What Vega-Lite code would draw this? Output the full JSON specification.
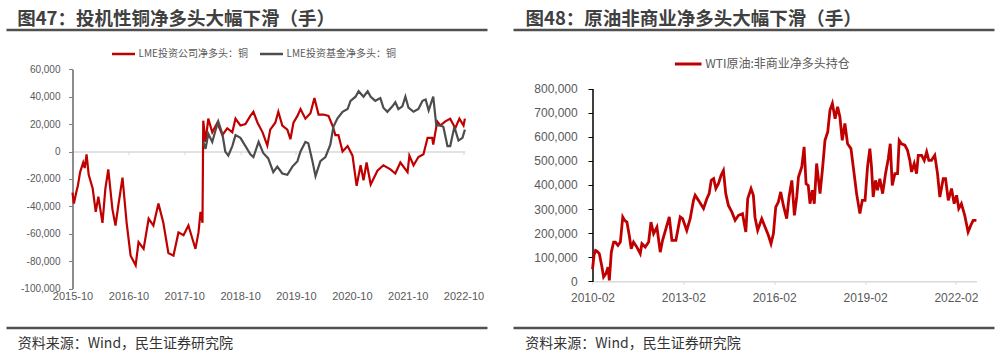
{
  "$schema": "https://vega.github.io/schema/vega-lite/v6.json",
  "padding": {"left": 4.5, "top": 8, "right": 8, "bottom": 2},
  "spacing": 26,
  "bounds": "flush",
  "resolve": {"scale": {"color": "independent"}, "legend": {"color": "independent"}},
  "config": {
    "view": {"stroke": "#505050", "strokeWidth": 2.7, "strokeDash": [481, 298]},
    "font": "Noto Sans CJK SC",
    "axis": {"grid": false, "labelFont": "Liberation Sans", "labelColor": "#595959", "labelFlush": false, "labelOverlap": false}
  },
  "datasets": {
    "copper": [
      {"date": "2015-10-01", "series": "LME投资公司净多头：铜", "value": -30000},
      {"date": "2015-10-10", "series": "LME投资公司净多头：铜", "value": -38000},
      {"date": "2015-10-25", "series": "LME投资公司净多头：铜", "value": -30000},
      {"date": "2015-11-05", "series": "LME投资公司净多头：铜", "value": -25000},
      {"date": "2015-11-20", "series": "LME投资公司净多头：铜", "value": -15000},
      {"date": "2015-12-10", "series": "LME投资公司净多头：铜", "value": -8000},
      {"date": "2015-12-20", "series": "LME投资公司净多头：铜", "value": -12000},
      {"date": "2016-01-01", "series": "LME投资公司净多头：铜", "value": -2000},
      {"date": "2016-01-15", "series": "LME投资公司净多头：铜", "value": -17000},
      {"date": "2016-02-10", "series": "LME投资公司净多头：铜", "value": -27000},
      {"date": "2016-03-01", "series": "LME投资公司净多头：铜", "value": -44000},
      {"date": "2016-03-18", "series": "LME投资公司净多头：铜", "value": -33000},
      {"date": "2016-04-14", "series": "LME投资公司净多头：铜", "value": -52000},
      {"date": "2016-05-03", "series": "LME投资公司净多头：铜", "value": -27000},
      {"date": "2016-05-22", "series": "LME投资公司净多头：铜", "value": -13000},
      {"date": "2016-06-18", "series": "LME投资公司净多头：铜", "value": -42000},
      {"date": "2016-07-08", "series": "LME投资公司净多头：铜", "value": -54000},
      {"date": "2016-07-27", "series": "LME投资公司净多头：铜", "value": -39000},
      {"date": "2016-08-23", "series": "LME投资公司净多头：铜", "value": -19000},
      {"date": "2016-09-19", "series": "LME投资公司净多头：铜", "value": -52000},
      {"date": "2016-10-15", "series": "LME投资公司净多头：铜", "value": -76000},
      {"date": "2016-11-17", "series": "LME投资公司净多头：铜", "value": -83000},
      {"date": "2016-12-06", "series": "LME投资公司净多头：铜", "value": -66000},
      {"date": "2017-01-08", "series": "LME投资公司净多头：铜", "value": -71000},
      {"date": "2017-02-10", "series": "LME投资公司净多头：铜", "value": -49000},
      {"date": "2017-03-13", "series": "LME投资公司净多头：铜", "value": -54000},
      {"date": "2017-04-15", "series": "LME投资公司净多头：铜", "value": -38000},
      {"date": "2017-05-17", "series": "LME投资公司净多头：铜", "value": -52000},
      {"date": "2017-06-19", "series": "LME投资公司净多头：铜", "value": -74000},
      {"date": "2017-07-22", "series": "LME投资公司净多头：铜", "value": -76000},
      {"date": "2017-08-24", "series": "LME投资公司净多头：铜", "value": -59000},
      {"date": "2017-09-26", "series": "LME投资公司净多头：铜", "value": -61000},
      {"date": "2017-10-28", "series": "LME投资公司净多头：铜", "value": -54000},
      {"date": "2017-11-24", "series": "LME投资公司净多头：铜", "value": -64000},
      {"date": "2017-12-13", "series": "LME投资公司净多头：铜", "value": -71000},
      {"date": "2018-01-02", "series": "LME投资公司净多头：铜", "value": -59000},
      {"date": "2018-01-15", "series": "LME投资公司净多头：铜", "value": -44000},
      {"date": "2018-01-28", "series": "LME投资公司净多头：铜", "value": -52000},
      {"date": "2018-02-02", "series": "LME投资公司净多头：铜", "value": 22500},
      {"date": "2018-02-17", "series": "LME投资公司净多头：铜", "value": 7000},
      {"date": "2018-03-07", "series": "LME投资公司净多头：铜", "value": 24000},
      {"date": "2018-04-02", "series": "LME投资公司净多头：铜", "value": 14000},
      {"date": "2018-05-05", "series": "LME投资公司净多头：铜", "value": 21000},
      {"date": "2018-06-07", "series": "LME投资公司净多头：铜", "value": 12000},
      {"date": "2018-07-09", "series": "LME投资公司净多头：铜", "value": 17000},
      {"date": "2018-08-11", "series": "LME投资公司净多头：铜", "value": 14000},
      {"date": "2018-09-01", "series": "LME投资公司净多头：铜", "value": 24000},
      {"date": "2018-10-03", "series": "LME投资公司净多头：铜", "value": 19000},
      {"date": "2018-11-05", "series": "LME投资公司净多头：铜", "value": 20000},
      {"date": "2018-12-07", "series": "LME投资公司净多头：铜", "value": 26000},
      {"date": "2018-12-27", "series": "LME投资公司净多头：铜", "value": 29000},
      {"date": "2019-01-23", "series": "LME投资公司净多头：铜", "value": 21000},
      {"date": "2019-02-25", "series": "LME投资公司净多头：铜", "value": 14000},
      {"date": "2019-03-28", "series": "LME投资公司净多头：铜", "value": 4400},
      {"date": "2019-04-16", "series": "LME投资公司净多头：铜", "value": 16000},
      {"date": "2019-05-19", "series": "LME投资公司净多头：铜", "value": 21000},
      {"date": "2019-06-08", "series": "LME投资公司净多头：铜", "value": 29000},
      {"date": "2019-07-04", "series": "LME投资公司净多头：铜", "value": 19000},
      {"date": "2019-08-06", "series": "LME投资公司净多头：铜", "value": 16000},
      {"date": "2019-08-26", "series": "LME投资公司净多头：铜", "value": 9000},
      {"date": "2019-09-15", "series": "LME投资公司净多头：铜", "value": 21000},
      {"date": "2019-10-11", "series": "LME投资公司净多头：铜", "value": 26000},
      {"date": "2019-10-31", "series": "LME投资公司净多头：铜", "value": 31000},
      {"date": "2019-12-02", "series": "LME投资公司净多头：铜", "value": 24000},
      {"date": "2020-01-04", "series": "LME投资公司净多头：铜", "value": 28000},
      {"date": "2020-01-30", "series": "LME投资公司净多头：铜", "value": 39000},
      {"date": "2020-02-26", "series": "LME投资公司净多头：铜", "value": 27000},
      {"date": "2020-03-29", "series": "LME投资公司净多头：铜", "value": 27000},
      {"date": "2020-05-01", "series": "LME投资公司净多头：铜", "value": 26000},
      {"date": "2020-05-27", "series": "LME投资公司净多头：铜", "value": 19000},
      {"date": "2020-06-15", "series": "LME投资公司净多头：铜", "value": 12000},
      {"date": "2020-07-05", "series": "LME投资公司净多头：铜", "value": 12000},
      {"date": "2020-08-01", "series": "LME投资公司净多头：铜", "value": 0},
      {"date": "2020-09-03", "series": "LME投资公司净多头：铜", "value": 4000},
      {"date": "2020-10-05", "series": "LME投资公司净多头：铜", "value": -3000},
      {"date": "2020-11-01", "series": "LME投资公司净多头：铜", "value": -25000},
      {"date": "2020-11-27", "series": "LME投资公司净多头：铜", "value": -10000},
      {"date": "2020-12-16", "series": "LME投资公司净多头：铜", "value": -21000},
      {"date": "2021-01-05", "series": "LME投资公司净多头：铜", "value": -8000},
      {"date": "2021-02-01", "series": "LME投资公司净多头：铜", "value": -24000},
      {"date": "2021-03-17", "series": "LME投资公司净多头：铜", "value": -14000},
      {"date": "2021-04-25", "series": "LME投资公司净多头：铜", "value": -10000},
      {"date": "2021-06-10", "series": "LME投资公司净多头：铜", "value": -13000},
      {"date": "2021-07-12", "series": "LME投资公司净多头：铜", "value": -16000},
      {"date": "2021-08-14", "series": "LME投资公司净多头：铜", "value": -8000},
      {"date": "2021-09-30", "series": "LME投资公司净多头：铜", "value": -15000},
      {"date": "2021-10-12", "series": "LME投资公司净多头：铜", "value": -3000},
      {"date": "2021-11-08", "series": "LME投资公司净多头：铜", "value": -10000},
      {"date": "2021-12-10", "series": "LME投资公司净多头：铜", "value": -4000},
      {"date": "2022-01-12", "series": "LME投资公司净多头：铜", "value": -2000},
      {"date": "2022-02-08", "series": "LME投资公司净多头：铜", "value": 10000},
      {"date": "2022-03-10", "series": "LME投资公司净多头：铜", "value": 10000},
      {"date": "2022-03-17", "series": "LME投资公司净多头：铜", "value": 5000},
      {"date": "2022-04-12", "series": "LME投资公司净多头：铜", "value": 22000},
      {"date": "2022-05-02", "series": "LME投资公司净多头：铜", "value": 19000},
      {"date": "2022-06-04", "series": "LME投资公司净多头：铜", "value": 22000},
      {"date": "2022-07-06", "series": "LME投资公司净多头：铜", "value": 24000},
      {"date": "2022-08-08", "series": "LME投资公司净多头：铜", "value": 17000},
      {"date": "2022-09-04", "series": "LME投资公司净多头：铜", "value": 24000},
      {"date": "2022-10-01", "series": "LME投资公司净多头：铜", "value": 19000},
      {"date": "2022-10-10", "series": "LME投资公司净多头：铜", "value": 24000},
      {"date": "2018-02-02", "series": "LME投资基金净多头：铜", "value": 7000},
      {"date": "2018-02-17", "series": "LME投资基金净多头：铜", "value": 2000},
      {"date": "2018-03-07", "series": "LME投资基金净多头：铜", "value": 13000},
      {"date": "2018-04-02", "series": "LME投资基金净多头：铜", "value": 7000},
      {"date": "2018-04-22", "series": "LME投资基金净多头：铜", "value": 15000},
      {"date": "2018-05-11", "series": "LME投资基金净多头：铜", "value": 22000},
      {"date": "2018-06-07", "series": "LME投资基金净多头：铜", "value": 13000},
      {"date": "2018-06-26", "series": "LME投资基金净多头：铜", "value": 0},
      {"date": "2018-07-16", "series": "LME投资基金净多头：铜", "value": -3000},
      {"date": "2018-08-11", "series": "LME投资基金净多头：铜", "value": 4000},
      {"date": "2018-09-01", "series": "LME投资基金净多头：铜", "value": 12000},
      {"date": "2018-10-03", "series": "LME投资基金净多头：铜", "value": 10000},
      {"date": "2018-11-05", "series": "LME投资基金净多头：铜", "value": 4000},
      {"date": "2018-12-07", "series": "LME投资基金净多头：铜", "value": -2000},
      {"date": "2018-12-27", "series": "LME投资基金净多头：铜", "value": -4000},
      {"date": "2019-01-30", "series": "LME投资基金净多头：铜", "value": 7000},
      {"date": "2019-03-01", "series": "LME投资基金净多头：铜", "value": -1000},
      {"date": "2019-04-03", "series": "LME投资基金净多头：铜", "value": -5000},
      {"date": "2019-05-06", "series": "LME投资基金净多头：铜", "value": -15000},
      {"date": "2019-06-01", "series": "LME投资基金净多头：铜", "value": -11000},
      {"date": "2019-07-04", "series": "LME投资基金净多头：铜", "value": -16000},
      {"date": "2019-08-06", "series": "LME投资基金净多头：铜", "value": -17000},
      {"date": "2019-09-08", "series": "LME投资基金净多头：铜", "value": -11000},
      {"date": "2019-10-11", "series": "LME投资基金净多头：铜", "value": -7000},
      {"date": "2019-10-31", "series": "LME投资基金净多头：铜", "value": 0},
      {"date": "2019-12-02", "series": "LME投资基金净多头：铜", "value": 7000},
      {"date": "2019-12-21", "series": "LME投资基金净多头：铜", "value": 6000},
      {"date": "2020-01-17", "series": "LME投资基金净多头：铜", "value": -7000},
      {"date": "2020-02-06", "series": "LME投资基金净多头：铜", "value": -18000},
      {"date": "2020-03-09", "series": "LME投资基金净多头：铜", "value": -7000},
      {"date": "2020-04-11", "series": "LME投资基金净多头：铜", "value": -4000},
      {"date": "2020-05-13", "series": "LME投资基金净多头：铜", "value": 5000},
      {"date": "2020-06-02", "series": "LME投资基金净多头：铜", "value": 18000},
      {"date": "2020-06-28", "series": "LME投资基金净多头：铜", "value": 24000},
      {"date": "2020-08-01", "series": "LME投资基金净多头：铜", "value": 29000},
      {"date": "2020-09-03", "series": "LME投资基金净多头：铜", "value": 31000},
      {"date": "2020-09-22", "series": "LME投资基金净多头：铜", "value": 37000},
      {"date": "2020-10-25", "series": "LME投资基金净多头：铜", "value": 40000},
      {"date": "2020-11-14", "series": "LME投资基金净多头：铜", "value": 44000},
      {"date": "2020-12-16", "series": "LME投资基金净多头：铜", "value": 40000},
      {"date": "2021-01-12", "series": "LME投资基金净多头：铜", "value": 44000},
      {"date": "2021-02-01", "series": "LME投资基金净多头：铜", "value": 40000},
      {"date": "2021-03-03", "series": "LME投资基金净多头：铜", "value": 37000},
      {"date": "2021-04-05", "series": "LME投资基金净多头：铜", "value": 39000},
      {"date": "2021-04-25", "series": "LME投资基金净多头：铜", "value": 32000},
      {"date": "2021-05-21", "series": "LME投资基金净多头：铜", "value": 29000},
      {"date": "2021-06-23", "series": "LME投资基金净多头：铜", "value": 33000},
      {"date": "2021-07-12", "series": "LME投资基金净多头：铜", "value": 36000},
      {"date": "2021-08-01", "series": "LME投资基金净多头：铜", "value": 31000},
      {"date": "2021-08-27", "series": "LME投资基金净多头：铜", "value": 33000},
      {"date": "2021-09-16", "series": "LME投资基金净多头：铜", "value": 40000},
      {"date": "2021-10-06", "series": "LME投资基金净多头：铜", "value": 32000},
      {"date": "2021-11-08", "series": "LME投资基金净多头：铜", "value": 29000},
      {"date": "2021-12-10", "series": "LME投资基金净多头：铜", "value": 31000},
      {"date": "2022-01-06", "series": "LME投资基金净多头：铜", "value": 37000},
      {"date": "2022-01-26", "series": "LME投资基金净多头：铜", "value": 38000},
      {"date": "2022-02-15", "series": "LME投资基金净多头：铜", "value": 30000},
      {"date": "2022-03-17", "series": "LME投资基金净多头：铜", "value": 40000},
      {"date": "2022-04-06", "series": "LME投资基金净多头：铜", "value": 19000},
      {"date": "2022-05-02", "series": "LME投资基金净多头：铜", "value": 19000},
      {"date": "2022-05-22", "series": "LME投资基金净多头：铜", "value": 18000},
      {"date": "2022-06-18", "series": "LME投资基金净多头：铜", "value": 4000},
      {"date": "2022-07-06", "series": "LME投资基金净多头：铜", "value": 4000},
      {"date": "2022-08-02", "series": "LME投资基金净多头：铜", "value": 18000},
      {"date": "2022-08-29", "series": "LME投资基金净多头：铜", "value": 8000},
      {"date": "2022-09-24", "series": "LME投资基金净多头：铜", "value": 10000},
      {"date": "2022-10-10", "series": "LME投资基金净多头：铜", "value": 16000}
    ],
    "wti": [
      {"date": "2010-02-01", "series": "WTI原油:非商业净多头持仓", "value": 50000},
      {"date": "2010-02-20", "series": "WTI原油:非商业净多头持仓", "value": 110000},
      {"date": "2010-03-10", "series": "WTI原油:非商业净多头持仓", "value": 128000},
      {"date": "2010-03-27", "series": "WTI原油:非商业净多头持仓", "value": 125000},
      {"date": "2010-04-24", "series": "WTI原油:非商业净多头持仓", "value": 115000},
      {"date": "2010-05-26", "series": "WTI原油:非商业净多头持仓", "value": 59000},
      {"date": "2010-06-15", "series": "WTI原油:非商业净多头持仓", "value": 18000},
      {"date": "2010-07-13", "series": "WTI原油:非商业净多头持仓", "value": 32000},
      {"date": "2010-08-07", "series": "WTI原油:非商业净多头持仓", "value": 59000},
      {"date": "2010-08-23", "series": "WTI原油:非商业净多头持仓", "value": 4000},
      {"date": "2010-09-16", "series": "WTI原油:非商业净多头持仓", "value": 121000},
      {"date": "2010-10-14", "series": "WTI原油:非商业净多头持仓", "value": 163000},
      {"date": "2010-11-04", "series": "WTI原油:非商业净多头持仓", "value": 163000},
      {"date": "2010-12-05", "series": "WTI原油:非商业净多头持仓", "value": 149000},
      {"date": "2011-01-03", "series": "WTI原油:非商业净多头持仓", "value": 163000},
      {"date": "2011-02-01", "series": "WTI原油:非商业净多头持仓", "value": 267000},
      {"date": "2011-02-24", "series": "WTI原油:非商业净多头持仓", "value": 253000},
      {"date": "2011-03-23", "series": "WTI原油:非商业净多头持仓", "value": 246000},
      {"date": "2011-04-20", "series": "WTI原油:非商业净多头持仓", "value": 191000},
      {"date": "2011-05-14", "series": "WTI原油:非商业净多头持仓", "value": 135000},
      {"date": "2011-06-11", "series": "WTI原油:非商业净多头持仓", "value": 163000},
      {"date": "2011-07-21", "series": "WTI原油:非商业净多头持仓", "value": 142000},
      {"date": "2011-08-31", "series": "WTI原油:非商业净多头持仓", "value": 115000},
      {"date": "2011-09-20", "series": "WTI原油:非商业净多头持仓", "value": 156000},
      {"date": "2011-10-30", "series": "WTI原油:非商业净多头持仓", "value": 142000},
      {"date": "2011-12-10", "series": "WTI原油:非商业净多头持仓", "value": 163000},
      {"date": "2012-01-07", "series": "WTI原油:非商业净多头持仓", "value": 246000},
      {"date": "2012-02-08", "series": "WTI原油:非商业净多头持仓", "value": 198000},
      {"date": "2012-03-19", "series": "WTI原油:非商业净多头持仓", "value": 225000},
      {"date": "2012-04-28", "series": "WTI原油:非商业净多头持仓", "value": 121000},
      {"date": "2012-05-26", "series": "WTI原油:非商业净多头持仓", "value": 170000},
      {"date": "2012-07-05", "series": "WTI原油:非商业净多头持仓", "value": 218000},
      {"date": "2012-08-15", "series": "WTI原油:非商业净多头持仓", "value": 267000},
      {"date": "2012-09-16", "series": "WTI原油:非商业净多头持仓", "value": 170000},
      {"date": "2012-11-03", "series": "WTI原油:非商业净多头持仓", "value": 170000},
      {"date": "2012-12-25", "series": "WTI原油:非商业净多头持仓", "value": 267000},
      {"date": "2013-01-23", "series": "WTI原油:非商业净多头持仓", "value": 260000},
      {"date": "2013-03-14", "series": "WTI原油:非商业净多头持仓", "value": 211000},
      {"date": "2013-04-24", "series": "WTI原油:非商业净多头持仓", "value": 260000},
      {"date": "2013-06-03", "series": "WTI原油:非商业净多头持仓", "value": 336000},
      {"date": "2013-06-23", "series": "WTI原油:非商业净多头持仓", "value": 357000},
      {"date": "2013-08-02", "series": "WTI原油:非商业净多头持仓", "value": 336000},
      {"date": "2013-10-02", "series": "WTI原油:非商业净多头持仓", "value": 302000},
      {"date": "2013-11-11", "series": "WTI原油:非商业净多头持仓", "value": 343000},
      {"date": "2013-12-09", "series": "WTI原油:非商业净多头持仓", "value": 364000},
      {"date": "2014-01-03", "series": "WTI原油:非商业净多头持仓", "value": 419000},
      {"date": "2014-02-01", "series": "WTI原油:非商业净多头持仓", "value": 426000},
      {"date": "2014-02-28", "series": "WTI原油:非商业净多头持仓", "value": 385000},
      {"date": "2014-03-31", "series": "WTI原油:非商业净多头持仓", "value": 405000},
      {"date": "2014-05-02", "series": "WTI原油:非商业净多头持仓", "value": 440000},
      {"date": "2014-05-30", "series": "WTI原油:非商业净多头持仓", "value": 460000},
      {"date": "2014-06-27", "series": "WTI原油:非商业净多头持仓", "value": 364000},
      {"date": "2014-07-29", "series": "WTI原油:非商业净多头持仓", "value": 315000},
      {"date": "2014-09-08", "series": "WTI原油:非商业净多头持仓", "value": 288000},
      {"date": "2014-10-18", "series": "WTI原油:非商业净多头持仓", "value": 253000},
      {"date": "2014-11-28", "series": "WTI原油:非商业净多头持仓", "value": 274000},
      {"date": "2015-01-15", "series": "WTI原油:非商业净多头持仓", "value": 281000},
      {"date": "2015-02-24", "series": "WTI原油:非商业净多头持仓", "value": 205000},
      {"date": "2015-03-19", "series": "WTI原油:非商业净多头持仓", "value": 343000},
      {"date": "2015-04-28", "series": "WTI原油:非商业净多头持仓", "value": 385000},
      {"date": "2015-05-26", "series": "WTI原油:非商业净多头持仓", "value": 357000},
      {"date": "2015-06-15", "series": "WTI原油:非商业净多头持仓", "value": 265000},
      {"date": "2015-07-17", "series": "WTI原油:非商业净多头持仓", "value": 212000},
      {"date": "2015-09-04", "series": "WTI原油:非商业净多头持仓", "value": 260000},
      {"date": "2015-10-14", "series": "WTI原油:非商业净多头持仓", "value": 225000},
      {"date": "2015-11-23", "series": "WTI原油:非商业净多头持仓", "value": 191000},
      {"date": "2015-12-25", "series": "WTI原油:非商业净多头持仓", "value": 156000},
      {"date": "2016-01-23", "series": "WTI原油:非商业净多头持仓", "value": 198000},
      {"date": "2016-02-20", "series": "WTI原油:非商业净多头持仓", "value": 308000},
      {"date": "2016-03-22", "series": "WTI原油:非商业净多头持仓", "value": 329000},
      {"date": "2016-04-20", "series": "WTI原油:非商业净多头持仓", "value": 371000},
      {"date": "2016-05-22", "series": "WTI原油:非商业净多头持仓", "value": 315000},
      {"date": "2016-07-01", "series": "WTI原油:非商业净多头持仓", "value": 260000},
      {"date": "2016-07-29", "series": "WTI原油:非商业净多头持仓", "value": 350000},
      {"date": "2016-09-01", "series": "WTI原油:非商业净多头持仓", "value": 419000},
      {"date": "2016-10-02", "series": "WTI原油:非商业净多头持仓", "value": 274000},
      {"date": "2016-10-30", "series": "WTI原油:非商业净多头持仓", "value": 350000},
      {"date": "2016-11-20", "series": "WTI原油:非商业净多头持仓", "value": 433000},
      {"date": "2016-12-30", "series": "WTI原油:非商业净多头持仓", "value": 475000},
      {"date": "2017-01-27", "series": "WTI原油:非商业净多头持仓", "value": 558000},
      {"date": "2017-02-20", "series": "WTI原油:非商业净多头持仓", "value": 405000},
      {"date": "2017-03-18", "series": "WTI原油:非商业净多头持仓", "value": 398000},
      {"date": "2017-04-08", "series": "WTI原油:非商业净多头持仓", "value": 322000},
      {"date": "2017-05-06", "series": "WTI原油:非商业净多头持仓", "value": 378000},
      {"date": "2017-05-30", "series": "WTI原油:非商业净多头持仓", "value": 322000},
      {"date": "2017-06-27", "series": "WTI原油:非商业净多头持仓", "value": 489000},
      {"date": "2017-08-07", "series": "WTI原油:非商业净多头持仓", "value": 364000},
      {"date": "2017-09-04", "series": "WTI原油:非商业净多头持仓", "value": 460000},
      {"date": "2017-10-06", "series": "WTI原油:非商业净多头持仓", "value": 585000},
      {"date": "2017-11-08", "series": "WTI原油:非商业净多头持仓", "value": 620000},
      {"date": "2017-12-05", "series": "WTI原油:非商业净多头持仓", "value": 710000},
      {"date": "2018-01-03", "series": "WTI原油:非商业净多头持仓", "value": 738000},
      {"date": "2018-02-05", "series": "WTI原油:非商业净多头持仓", "value": 675000},
      {"date": "2018-03-07", "series": "WTI原油:非商业净多头持仓", "value": 724000},
      {"date": "2018-04-04", "series": "WTI原油:非商业净多头持仓", "value": 682000},
      {"date": "2018-05-02", "series": "WTI原油:非商业净多头持仓", "value": 585000},
      {"date": "2018-06-03", "series": "WTI原油:非商业净多头持仓", "value": 655000},
      {"date": "2018-07-05", "series": "WTI原油:非商业净多头持仓", "value": 571000},
      {"date": "2018-08-15", "series": "WTI原油:非商业净多头持仓", "value": 551000},
      {"date": "2018-09-12", "series": "WTI原油:非商业净多头持仓", "value": 475000},
      {"date": "2018-10-22", "series": "WTI原油:非商业净多头持仓", "value": 364000},
      {"date": "2018-12-01", "series": "WTI原油:非商业净多头持仓", "value": 281000},
      {"date": "2018-12-30", "series": "WTI原油:非商业净多头持仓", "value": 336000},
      {"date": "2019-02-01", "series": "WTI原油:非商业净多头持仓", "value": 336000},
      {"date": "2019-03-03", "series": "WTI原油:非商业净多头持仓", "value": 475000},
      {"date": "2019-03-31", "series": "WTI原油:非商业净多头持仓", "value": 551000},
      {"date": "2019-04-20", "series": "WTI原油:非商业净多头持仓", "value": 475000},
      {"date": "2019-05-10", "series": "WTI原油:非商业净多头持仓", "value": 350000},
      {"date": "2019-06-07", "series": "WTI原油:非商业净多头持仓", "value": 419000},
      {"date": "2019-07-01", "series": "WTI原油:非商业净多头持仓", "value": 378000},
      {"date": "2019-07-29", "series": "WTI原油:非商业净多头持仓", "value": 426000},
      {"date": "2019-09-01", "series": "WTI原油:非商业净多头持仓", "value": 364000},
      {"date": "2019-10-06", "series": "WTI原油:非商业净多头持仓", "value": 447000},
      {"date": "2019-11-08", "series": "WTI原油:非商业净多头持仓", "value": 509000},
      {"date": "2019-12-02", "series": "WTI原油:非商业净多头持仓", "value": 571000},
      {"date": "2019-12-26", "series": "WTI原油:非商业净多头持仓", "value": 398000},
      {"date": "2020-01-27", "series": "WTI原油:非商业净多头持仓", "value": 447000},
      {"date": "2020-02-28", "series": "WTI原油:非商业净多头持仓", "value": 447000},
      {"date": "2020-03-19", "series": "WTI原油:非商业净多头持仓", "value": 585000},
      {"date": "2020-04-16", "series": "WTI原油:非商业净多头持仓", "value": 571000},
      {"date": "2020-05-26", "series": "WTI原油:非商业净多头持仓", "value": 565000},
      {"date": "2020-06-27", "series": "WTI原油:非商业净多头持仓", "value": 544000},
      {"date": "2020-07-25", "series": "WTI原油:非商业净多头持仓", "value": 502000},
      {"date": "2020-08-15", "series": "WTI原油:非商业净多头持仓", "value": 454000},
      {"date": "2020-09-16", "series": "WTI原油:非商业净多头持仓", "value": 489000},
      {"date": "2020-10-14", "series": "WTI原油:非商业净多头持仓", "value": 447000},
      {"date": "2020-11-04", "series": "WTI原油:非商业净多头持仓", "value": 523000},
      {"date": "2020-12-14", "series": "WTI原油:非商业净多头持仓", "value": 523000},
      {"date": "2021-01-15", "series": "WTI原油:非商业净多头持仓", "value": 502000},
      {"date": "2021-02-13", "series": "WTI原油:非商业净多头持仓", "value": 537000},
      {"date": "2021-03-11", "series": "WTI原油:非商业净多头持仓", "value": 502000},
      {"date": "2021-04-12", "series": "WTI原油:非商业净多头持仓", "value": 502000},
      {"date": "2021-05-22", "series": "WTI原油:非商业净多头持仓", "value": 523000},
      {"date": "2021-06-24", "series": "WTI原油:非商业净多头持仓", "value": 447000},
      {"date": "2021-07-22", "series": "WTI原油:非商业净多头持仓", "value": 350000},
      {"date": "2021-09-01", "series": "WTI原油:非商业净多头持仓", "value": 426000},
      {"date": "2021-09-29", "series": "WTI原油:非商业净多头持仓", "value": 426000},
      {"date": "2021-11-01", "series": "WTI原油:非商业净多头持仓", "value": 336000},
      {"date": "2021-12-10", "series": "WTI原油:非商业净多头持仓", "value": 385000},
      {"date": "2022-01-11", "series": "WTI原油:非商业净多头持仓", "value": 322000},
      {"date": "2022-02-09", "series": "WTI原油:非商业净多头持仓", "value": 357000},
      {"date": "2022-03-07", "series": "WTI原油:非商业净多头持仓", "value": 302000},
      {"date": "2022-04-08", "series": "WTI原油:非商业净多头持仓", "value": 322000},
      {"date": "2022-05-18", "series": "WTI原油:非商业净多头持仓", "value": 274000},
      {"date": "2022-06-28", "series": "WTI原油:非商业净多头持仓", "value": 205000},
      {"date": "2022-07-30", "series": "WTI原油:非商业净多头持仓", "value": 232000},
      {"date": "2022-08-28", "series": "WTI原油:非商业净多头持仓", "value": 253000},
      {"date": "2022-10-06", "series": "WTI原油:非商业净多头持仓", "value": 253000}
    ]
  },
  "hconcat": [
    {
      "width": 481,
      "height": 298,
      "title": {"text": "图47：投机性铜净多头大幅下滑（手）", "anchor": "start", "frame": "group", "dx": 10.7, "offset": 2, "fontSize": 18.5, "fontWeight": "bold", "color": "#404040", "font": "Noto Sans CJK SC"},
      "data": {"name": "copper"},
      "mark": {"type": "line", "strokeWidth": 2.2},
      "encoding": {
        "x": {
          "field": "date", "type": "temporal",
          "scale": {"type": "utc", "domain": [{"year": 2015, "month": 10, "date": 1, "utc": true}, {"year": 2022, "month": 10, "date": 10, "utc": true}], "range": [66, 458.4]},
          "axis": {
            "orient": "bottom", "offset": -176.5,
            "values": [{"year": 2015, "month": 10, "date": 1, "utc": true}, {"year": 2016, "month": 10, "date": 1, "utc": true}, {"year": 2017, "month": 10, "date": 1, "utc": true}, {"year": 2018, "month": 10, "date": 1, "utc": true}, {"year": 2019, "month": 10, "date": 1, "utc": true}, {"year": 2020, "month": 10, "date": 1, "utc": true}, {"year": 2021, "month": 10, "date": 1, "utc": true}, {"year": 2022, "month": 10, "date": 1, "utc": true}],
            "labelExpr": "utcFormat(datum.value, '%Y-%m')",
            "domainColor": "#D9D9D9", "domainWidth": 1.5, "tickColor": "#D9D9D9", "tickSize": 3, "tickWidth": 1,
            "labelPadding": 136, "labelFontSize": 11,
            "title": "资料来源：Wind，民生证券研究院", "titleX": 10.7, "titleY": 191.7, "titleAlign": "left", "titleBaseline": "middle",
            "titleFont": "Noto Sans CJK SC", "titleFontSize": 14, "titleFontWeight": "normal", "titleColor": "#333333"
          }
        },
        "y": {
          "field": "value", "type": "quantitative",
          "scale": {"domain": [-100000, 60000], "range": [258.6, 39.3], "nice": false, "zero": false},
          "axis": {
            "offset": -66, "values": [-100000, -80000, -60000, -40000, -20000, 0, 20000, 40000, 60000],
            "labelExpr": "replace(format(datum.value, ','), '−', '-')",
            "domainColor": "#808080", "domainWidth": 1.8, "tickColor": "#808080", "tickSize": 4,
            "labelPadding": 8.5, "labelFontSize": 10, "title": null
          }
        },
        "color": {
          "field": "series", "type": "nominal",
          "scale": {"domain": ["LME投资公司净多头：铜", "LME投资基金净多头：铜"], "range": ["#C00000", "#4D4D4D"]},
          "legend": {"orient": "none", "legendX": 104, "legendY": 11, "direction": "horizontal", "title": null, "symbolType": "stroke", "symbolSize": 529, "symbolStrokeWidth": 2.5, "labelFontSize": 10, "labelColor": "#595959", "labelFont": "Noto Sans CJK SC", "labelOffset": 2, "columnPadding": 6, "padding": 0}
        }
      }
    },
    {
      "width": 481,
      "height": 298,
      "title": {"text": "图48：原油非商业净多头大幅下滑（手）", "anchor": "start", "frame": "group", "dx": 12, "offset": 2, "fontSize": 18.5, "fontWeight": "bold", "color": "#404040", "font": "Noto Sans CJK SC"},
      "data": {"name": "wti"},
      "mark": {"type": "line", "strokeWidth": 2.8},
      "encoding": {
        "x": {
          "field": "date", "type": "temporal",
          "scale": {"type": "utc", "domain": [{"year": 2010, "month": 2, "date": 1, "utc": true}, {"year": 2022, "month": 10, "date": 6, "utc": true}], "range": [79, 462.9]},
          "axis": {
            "orient": "bottom", "offset": -46.7,
            "values": [{"year": 2010, "month": 2, "date": 1, "utc": true}, {"year": 2013, "month": 2, "date": 1, "utc": true}, {"year": 2016, "month": 2, "date": 1, "utc": true}, {"year": 2019, "month": 2, "date": 1, "utc": true}, {"year": 2022, "month": 2, "date": 1, "utc": true}],
            "labelExpr": "utcFormat(datum.value, '%Y-%m')",
            "domainColor": "#D9D9D9", "domainWidth": 1.5, "tickColor": "#D9D9D9", "tickSize": 3, "tickWidth": 1,
            "labelPadding": 8, "labelFontSize": 12,
            "title": "资料来源：Wind，民生证券研究院", "titleX": 11.3, "titleY": 61.7, "titleAlign": "left", "titleBaseline": "middle",
            "titleFont": "Noto Sans CJK SC", "titleFontSize": 14, "titleFontWeight": "normal", "titleColor": "#333333"
          }
        },
        "y": {
          "field": "value", "type": "quantitative",
          "scale": {"domain": [0, 800000], "range": [251.3, 58.6], "nice": false, "zero": false},
          "axis": {
            "offset": -79, "values": [0, 100000, 200000, 300000, 400000, 500000, 600000, 700000, 800000],
            "labelExpr": "replace(format(datum.value, ','), '−', '-')",
            "domainColor": "#000000", "domainWidth": 1.5, "tickColor": "#000000", "tickSize": 4.5,
            "labelPadding": 10.8, "labelFontSize": 12, "title": null
          }
        },
        "color": {
          "field": "series", "type": "nominal",
          "scale": {"domain": ["WTI原油:非商业净多头持仓"], "range": ["#C00000"]},
          "legend": {"orient": "none", "legendX": 159.7, "legendY": 19, "direction": "horizontal", "title": null, "symbolType": "stroke", "symbolSize": 708, "symbolStrokeWidth": 3, "labelFontSize": 12, "labelColor": "#595959", "labelFont": "Noto Sans CJK SC", "labelOffset": 2, "padding": 0}
        }
      }
    }
  ]
}
